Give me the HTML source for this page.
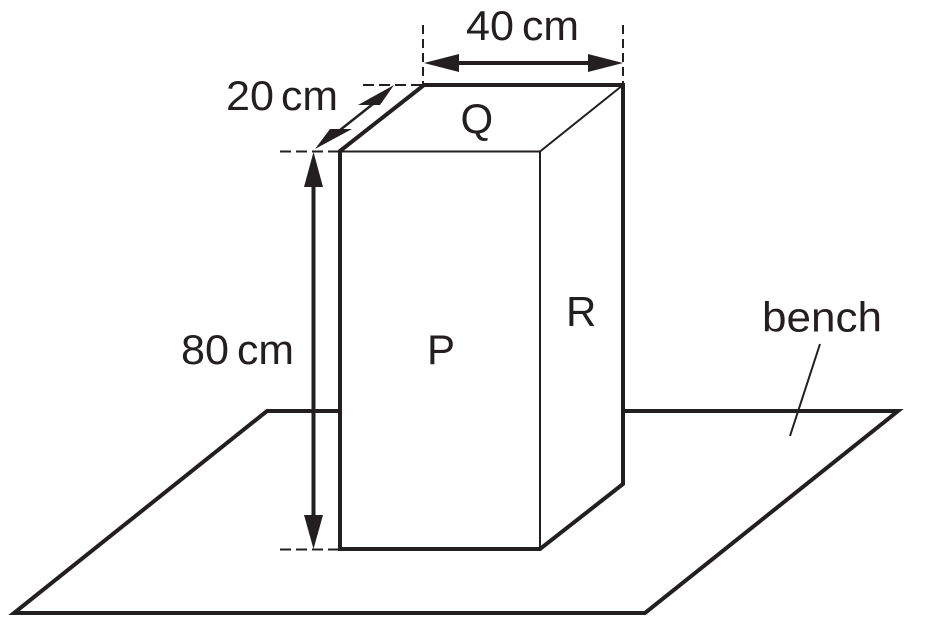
<!DOCTYPE html>
<html>
<head>
<meta charset="utf-8">
<style>
html,body{margin:0;padding:0;background:#fff;width:929px;height:626px;overflow:hidden}
svg{display:block}
text{font-family:"Liberation Sans",sans-serif;font-size:42px;fill:#231f20}
</style>
</head>
<body>
<svg width="929" height="626" viewBox="0 0 929 626" xmlns="http://www.w3.org/2000/svg">
<g fill="none" stroke="#231f20" stroke-linejoin="miter">
  <!-- bench -->
  <path d="M340 411H267L14 613H645L898 411H623" stroke-width="4"/>
  <!-- bench leader -->
  <path d="M820 344L790 436" stroke-width="2"/>
  <!-- box fill and outline -->
  <path d="M340 151L424 85H623V484L540 549H340Z" fill="#fff" stroke="none"/>
  <path d="M340 549V151L424 85H623V484L540 549H340Z" stroke-width="4"/>
  <!-- thin edges -->
  <path d="M340 151.500H540V549M540 151.500L623 85" stroke-width="2"/>
  <!-- dashed extents -->
  <path d="M423 25V85M623 25V85" stroke-width="2" stroke-dasharray="9 5"/>
  <path d="M363 85H424" stroke-width="2" stroke-dasharray="11 5"/>
  <path d="M280 151.500H340" stroke-width="2" stroke-dasharray="11 5"/>
  <path d="M280 549.500H340" stroke-width="2" stroke-dasharray="11 5"/>
  <!-- dimension shafts -->
  <path d="M450 63H598" stroke-width="4"/>
  <path d="M313.500 180V520" stroke-width="4"/>
  <path d="M335 134L378 100" stroke-width="2.500"/>
</g>
<g fill="#231f20" stroke="none">
  <path d="M424 63L459 54V72Z"/>
  <path d="M623 63L588 54V72Z"/>
  <path d="M313.500 152L304 187H323Z"/>
  <path d="M313.500 549L304 515H323Z"/>
  <path d="M394 85L380 105H358Z"/>
  <path d="M315 149L330 129H352Z"/>
</g>
<text x="466" y="40" textLength="48" lengthAdjust="spacingAndGlyphs">40</text>
<text x="522" y="40" textLength="57" lengthAdjust="spacingAndGlyphs">cm</text>
<text x="226" y="110" textLength="48" lengthAdjust="spacingAndGlyphs">20</text>
<text x="281" y="110" textLength="57" lengthAdjust="spacingAndGlyphs">cm</text>
<text x="181" y="364" textLength="48" lengthAdjust="spacingAndGlyphs">80</text>
<text x="237" y="364" textLength="57" lengthAdjust="spacingAndGlyphs">cm</text>
<text x="460.500" y="133">Q</text>
<text x="427" y="364">P</text>
<text x="566" y="326">R</text>
<text x="762" y="331.500" textLength="120" lengthAdjust="spacingAndGlyphs">bench</text>
</svg>
</body>
</html>
